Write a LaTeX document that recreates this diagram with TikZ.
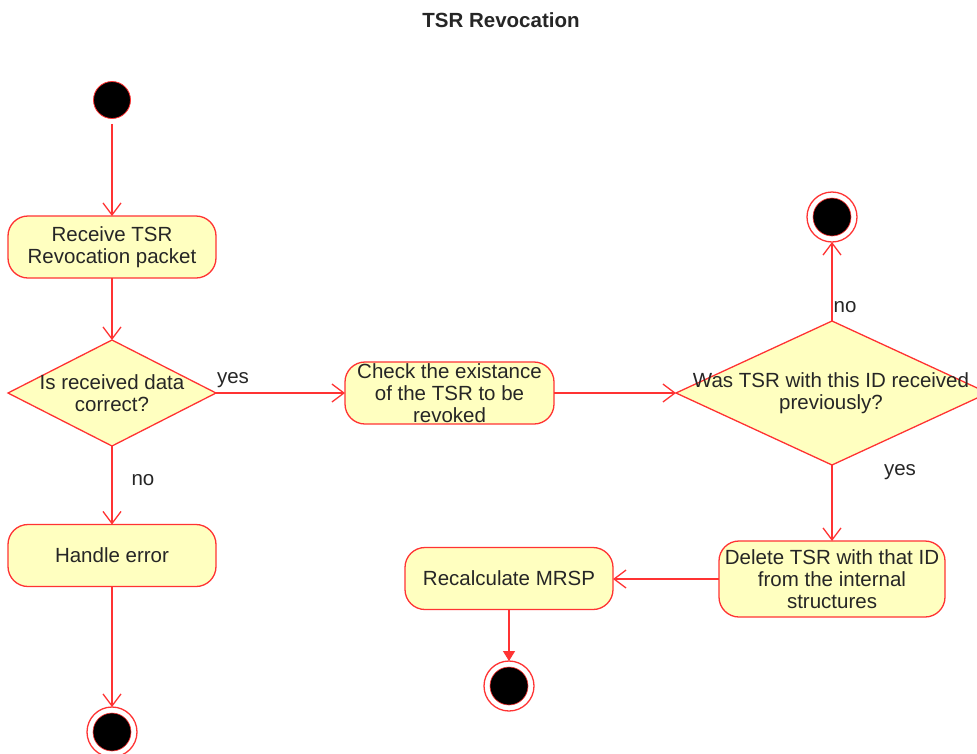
\documentclass[tikz,border=0pt]{standalone}
\usepackage{fontspec}
\setmainfont{Liberation Sans}
\usetikzlibrary{shapes.geometric,arrows.meta}
\definecolor{umlred}{RGB}{255,51,51}
\definecolor{umlfill}{RGB}{255,255,192}
\definecolor{umltext}{RGB}{38,38,38}
\begin{document}
\begin{tikzpicture}[x=1pt,y=-1pt,
  txt/.style={font=\fontsize{20.5}{22}\selectfont, text=umltext, align=center},
  activity/.style={txt, draw=umlred, fill=umlfill, rounded corners=20pt,
    line width=1.3pt, minimum width=208pt, minimum height=62pt, inner sep=0pt, outer sep=0pt},
  decision/.style={diamond, draw=umlred, fill=umlfill, line width=1.3pt,
    inner sep=0pt, outer sep=0pt},
  flow/.style={draw=umlred, line width=1.3pt, -{Straight Barb[length=12pt,width=18pt]}},
  initial/.style={circle, fill=black, draw=umlred, line width=0.8pt,
    minimum size=37pt, inner sep=0pt},
  final/.style={circle, draw=umlred, fill=white, line width=1.3pt,
    minimum size=50pt, inner sep=0pt, outer sep=0pt,
    path picture={\filldraw[fill=black, draw=umlred, line width=0.6pt]
      (path picture bounding box.center) circle (19pt);}},
  guard/.style={txt, inner sep=0pt}]
\useasboundingbox (0,0) rectangle (977,753);

% title
\node[txt, font=\bfseries\fontsize{20.5}{22}\selectfont] (title) at (501,20) {TSR Revocation};

% nodes
\node[initial] (start) at (112,100) {};
\node[activity] (receive) at (112,247) {Receive TSR\\Revocation packet};
\node[decision, minimum width=208pt, minimum height=106pt] (valid) at (112,393) {};
\node[txt] (validtxt) at (112,393) {Is received data\\correct?};
\node[activity, minimum width=209pt] (check) at (449.5,393) {Check the existance\\of the TSR to be\\revoked};
\node[decision, minimum width=312pt, minimum height=144pt] (known) at (832,393) {};
\node[txt] (knowntxt) at (831,393) {Was TSR with this ID received\\previously?};
\node[final] (endknown) at (832,217) {};
\node[activity, minimum width=226pt, minimum height=76pt] (delete) at (832,579) {Delete TSR with that ID\\from the internal\\structures};
\node[activity] (recalc) at (509,578.5) {Recalculate MRSP};
\node[final] (endrecalc) at (509,686) {};
\node[activity] (error) at (112,555.5) {Handle error};
\node[final] (enderror) at (112,732) {};

% flows
\draw[flow, shorten <=5pt] (start) -- (receive);
\draw[flow] (receive) -- (valid.north);
\draw[flow] (valid.east) -- (check.west);
\draw[flow] (valid.south) -- (error.north);
\draw[flow] (error) -- (enderror);
\draw[flow] (check.east) -- (known.west);
\draw[flow] (known.north) -- (endknown);
\draw[flow] (known.south) -- (delete.north);
\draw[flow] (delete.west) -- (recalc.east |- delete.west);
\draw[draw=umlred, line width=1.3pt, -{Triangle[length=10pt,width=12pt]}] (recalc) -- (endrecalc);

% guards
\node[guard] (yes1) at (233,380) {yes};
\node[guard] (no1) at (143,480) {no};
\node[guard] (no2) at (845,307) {no};
\node[guard] (yes2) at (900,472) {yes};
\end{tikzpicture}
\end{document}
